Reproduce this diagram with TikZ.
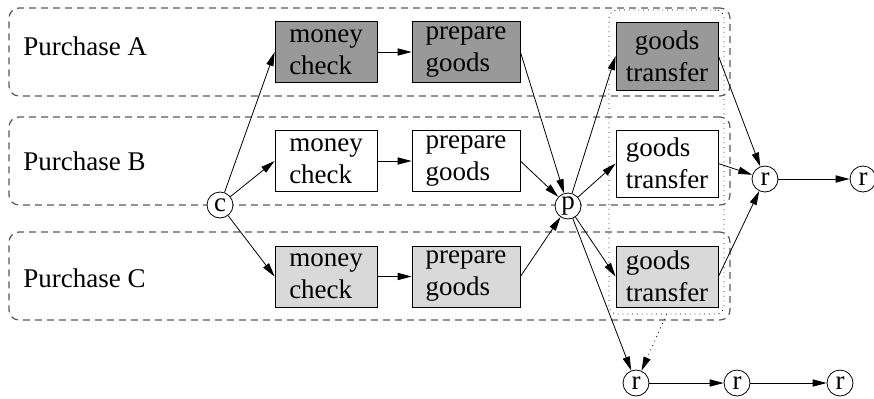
\documentclass[tikz,border=0pt]{standalone}
\usepackage{fontspec}
\setmainfont{Liberation Serif}
\usetikzlibrary{arrows.meta,shapes.geometric}
\definecolor{darkfill}{RGB}{153,153,153}
\definecolor{lightfill}{RGB}{217,217,217}
\tikzset{
  txt/.style={font=\fontsize{13.5}{16}\selectfont},
  task/.style={draw, txt, align=left, minimum width=51pt, minimum height=30.5pt, inner sep=0pt},
  gate/.style={draw, circle, fill=white, txt, minimum size=13pt, inner sep=0pt},
  lane/.style={draw=black!65, line width=0.6pt, dash pattern=on 3.5pt off 2.5pt, rounded corners=5pt, minimum width=360.5pt, minimum height=44pt},
  group/.style={draw, dotted, rounded corners=4pt},
  arr/.style={-{Triangle[length=7pt,width=3.6pt]}},
}
\begin{document}
\begin{tikzpicture}[x=0.5pt,y=-0.5pt]
\useasboundingbox (0,0) rectangle (874,398);
% lanes
\foreach \n/\y/\b in {A/52/55,B/161/170,C/276/287}{
  \node[lane] (lane\n) at (369.5,\y) {};
  \node[txt, anchor=base west, inner sep=0pt] (lbl\n) at (23,\b) {Purchase \n};
}
\node[group, minimum width=57.5pt, minimum height=152pt] (gtgroup) at (666.5,162) {};
% tasks
\foreach \n/\y/\f in {A/52/darkfill,B/161/white,C/276.5/lightfill}{
  \node[task, fill=\f] (mc\n) at (326,\y) {money\\check};
  \node[task, fill=\f, minimum width=54pt] (pg\n) at (466,\y) {prepare\\goods};
}
\node[task, fill=darkfill, align=center, minimum height=34pt] (gtA) at (667,56) {goods\\transfer};
\node[task, minimum height=33.5pt] (gtB) at (667,163.5) {goods\\transfer};
\node[task, fill=lightfill] (gtC) at (667,276.5) {goods\\transfer};
% gates
\node[gate] (c) at (220,205) {c};
\node[gate] (p) at (568,206) {p};
\node[gate] (r1) at (765,179) {r};
\node[gate] (r2) at (863,179) {r};
\node[gate] (rb1) at (636,383) {r};
\node[gate] (rb2) at (737,383) {r};
\node[gate] (rb3) at (840,383) {r};
% flow
\foreach \n in {A,B,C}{
  \draw[arr] (c) -- (mc\n.west);
  \draw[arr] (mc\n) -- (pg\n);
  \draw[arr] (pg\n.east) -- (p);
  \draw[arr] (p) -- (gt\n.west);
  \draw[arr] (gt\n.east) -- (r1);
}
\draw[arr] (r1) -- (r2);
\draw[arr] (p) -- (rb1);
\draw[arr] (rb1) -- (rb2);
\draw[arr] (rb2) -- (rb3);
\draw[arr, dotted] (gtgroup.south) -- (rb1);
\end{tikzpicture}
\end{document}
